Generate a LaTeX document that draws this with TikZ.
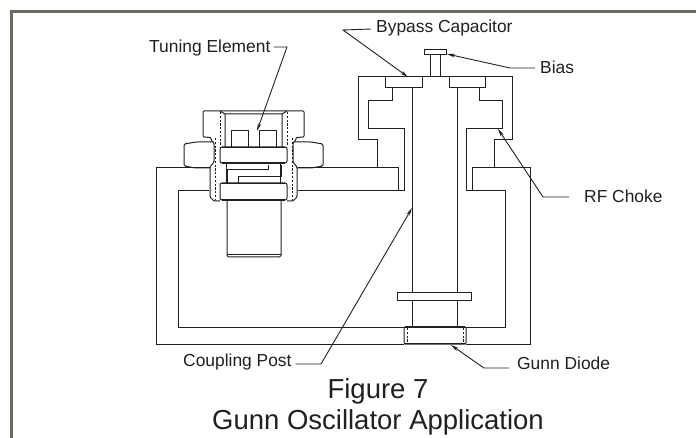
\documentclass[tikz,border=0pt]{standalone}
\usepackage{fontspec}
\setmainfont{Liberation Sans}
\usetikzlibrary{arrows.meta}
\definecolor{ink}{HTML}{231F20}
\definecolor{framegray}{HTML}{6B6B64}
\tikzset{
  part/.style={draw=ink,line width=1pt,line join=miter},
  thick part/.style={draw=ink,line width=1.7pt},
  hidden edge/.style={draw=ink,line width=0.8pt,dash pattern=on 2.2pt off 1.6pt},
  lbl/.style={inner sep=0pt,anchor=base west,text=ink,font=\fontsize{17.4}{20}\selectfont},
  captiontext/.style={inner sep=0pt,anchor=base,text=ink,font=\fontsize{27.5}{30}\selectfont},
  leader/.style={draw=ink,line width=0.9pt,-{Stealth[length=8pt,width=3.6pt]}},
}
\newcommand{\halfnut}{%
\draw[part,rounded corners=1pt] (253.5,111) -- (203,111) -- (203,137) -- (211,137.5) -- (211,140) -- (214,143) -- (214,162) -- (210,167) -- (210,197) -- (214,201) -- (220,201);
\draw[part,rounded corners=1.5pt] (213,142) -- (196,142) -- (184,144) -- (184,166) -- (196,168) -- (210,168);
\draw[part] (225,114) -- (225,147) (220,111) -- (225,114) -- (253.5,114);
\draw[hidden edge] (220,112) -- (220,146);
\draw[hidden edge] (215,138) -- (215,199);
\draw[part] (226.5,163) -- (226.5,183);
\draw[part] (231,147) -- (231,131) -- (248,131) -- (248,147);
\draw[part,rounded corners=2pt] (253.5,147) -- (220,147) -- (220,163) -- (253.5,163);
\draw[part,rounded corners=2pt] (253.5,183) -- (220,183) -- (220,200) -- (253.5,200);
\draw[thick part] (222,147.5) -- (253.5,147.5) (222,163) -- (253.5,163);
\draw[thick part] (222,183.5) -- (253.5,183.5) (222,200) -- (253.5,200);
}
\begin{document}
\begin{tikzpicture}[x=1pt,y=-1pt]
\useasboundingbox (0,0) rectangle (696,438);
% frame
\draw[framegray,line width=3pt] (11.5,438) -- (11.5,11.5) -- (696,11.5);

% housing
\draw[part] (377,168) -- (377,140) -- (358,140) -- (358,77) -- (512,77) -- (512,140) -- (494,140) -- (494,168);
\draw[part] (298,168) -- (398,168) -- (398,191) (298,191) -- (404,191);
\draw[part] (404,191) -- (404,129) -- (368,129) -- (368,101) -- (392,101) -- (392,88);
\draw[part] (479,88) -- (479,101) -- (502,101) -- (502,129) -- (466,129) -- (466,191) -- (505,191) -- (505,327) -- (466,327);
\draw[part] (472,191) -- (472,168) -- (530,168) -- (530,344) -- (466,344);
\draw[part] (210,168) -- (156,168) -- (156,344) -- (404,344);
\draw[part] (209,191) -- (178,191) -- (178,327) -- (404,327);

% bypass capacitor plates
\draw[part] (385,77) rectangle (422,88);
\draw[part] (449,77) rectangle (485,88);

% post and bias
\draw[part] (412,88) -- (412,293) (412,301) -- (412,327);
\draw[part] (457,88) -- (457,293) (457,301) -- (457,327);
\draw[part] (397,293) rectangle (471,301);
\draw[part] (430,77) -- (430,55) (440,77) -- (440,55);
\draw[part] (424,50) rectangle (446,55);

% gunn diode
\draw[part,rounded corners=1pt] (404,327) rectangle (466,344);
\draw[thick part] (405,343.5) -- (465,343.5);
\draw[thick part] (405,327.3) -- (465,327.3);
\draw[hidden edge] (407,328) -- (407,343) (463,328) -- (463,343);

% tuning element: both halves of the nut
\begin{scope}
\halfnut
\end{scope}
\begin{scope}[shift={(507,0)},xscale=-1]
\halfnut
\end{scope}
% meander between the plates
\draw[part] (268,165) -- (268,170) -- (227,170) -- (227,183);
\draw[part] (238,183) -- (238,177) -- (281,177) -- (281,165);
% lower cylinder
\draw[part,rounded corners=1.5pt] (227,201) -- (227,257) -- (281,257) -- (281,201);
\draw[part] (227,255) -- (281,255);

% labels
\node[lbl] (tuning) at (149,53) {Tuning Element};
\node[lbl] (bypass) at (376,33) {Bypass Capacitor};
\node[lbl] (bias) at (540,74) {Bias};
\node[lbl] (choke) at (584,203) {RF Choke};
\node[lbl] (post) at (183,366) {Coupling Post};
\node[lbl] (diode) at (517,369) {Gunn Diode};
\node[captiontext] (figno) at (378,398) {Figure 7};
\node[captiontext] (figname) at (378,429) {Gunn Oscillator Application};

% leader targets
\coordinate (tuneTip) at (257,131);
\coordinate (tuneBend) at (287,47);
\coordinate (bypassTip) at (408,77);
\coordinate (bypassBend) at (343,30);
\coordinate (biasTip) at (447,54);
\coordinate (biasBend) at (510,68);
\coordinate (chokeTip) at (498,129);
\coordinate (chokeBend) at (543,197);
\coordinate (postTip) at (412,208);
\coordinate (postBend) at (321,364);
\coordinate (diodeTip) at (451,345);
\coordinate (diodeBend) at (484,368);

% leaders
\draw[leader] ([shift={(3pt,6pt)}]tuning.base east) -- (tuneBend) -- (tuneTip);
\draw[leader] ([shift={(-5pt,4pt)}]bypass.base west) -- (bypassBend) -- (bypassTip);
\draw[leader] ([shift={(-5pt,6pt)}]bias.base west) -- (biasBend) -- (biasTip);
\draw[leader] ([shift={(-15pt,6pt)}]choke.base west) -- (chokeBend) -- (chokeTip);
\draw[leader] ([shift={(4pt,2pt)}]post.base east) -- (postBend) -- (postTip);
\draw[leader] ([shift={(-8pt,1pt)}]diode.base west) -- (diodeBend) -- (diodeTip);
\end{tikzpicture}
\end{document}
